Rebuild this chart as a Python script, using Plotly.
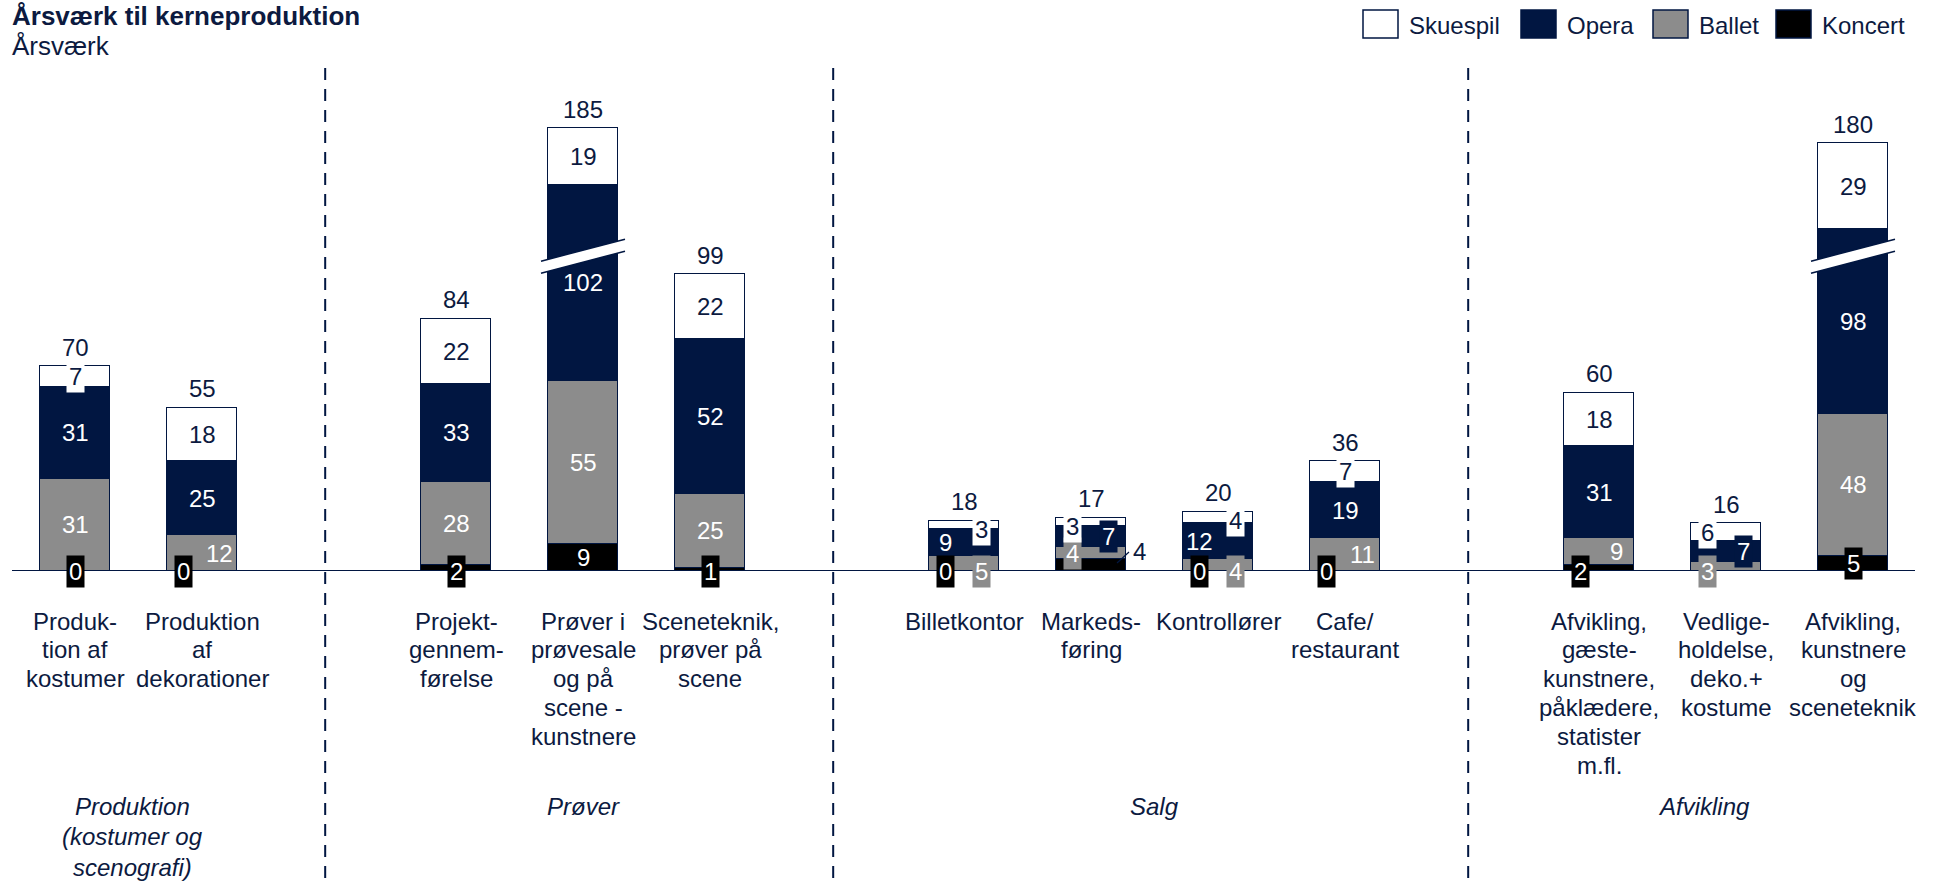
import plotly.graph_objects as go

# ---------------- data ----------------
category_lines = [
    ["Produk-", "tion af", "kostumer"],
    ["Produktion", "af", "dekorationer"],
    ["Projekt-", "gennem-", "førelse"],
    ["Prøver i", "prøvesale", "og på", "scene -", "kunstnere"],
    ["Sceneteknik,", "prøver på", "scene"],
    ["Billetkontor"],
    ["Markeds-", "føring"],
    ["Kontrollører"],
    ["Cafe/", "restaurant"],
    ["Afvikling,", "gæste-", "kunstnere,", "påklædere,", "statister", "m.fl."],
    ["Vedlige-", "holdelse,", "deko.+", "kostume"],
    ["Afvikling,", "kunstnere", "og", "sceneteknik"],
]
positions = [0, 1, 3, 4, 5, 7, 8, 9, 10, 12, 13, 14]
koncert = [0, 0, 2, 9, 1, 0, 4, 0, 0, 2, 0, 5]
ballet = [31, 12, 28, 55, 25, 5, 4, 4, 11, 9, 3, 48]
opera = [31, 25, 33, 102, 52, 9, 7, 12, 19, 31, 7, 98]
skuespil = [7, 18, 22, 19, 22, 3, 3, 4, 7, 18, 6, 29]
totals = [70, 55, 84, 185, 99, 18, 17, 20, 36, 60, 16, 180]
broken = [False, False, False, True, False, False, False, False, False, False, False, True]
group_lines = [["Produktion", "(kostumer og", "scenografi)"], ["Prøver"], ["Salg"], ["Afvikling"]]
group_members = [[0, 1], [2, 3, 4], [5, 6, 7, 8], [9, 10, 11]]
series_names = ["Koncert", "Ballet", "Opera", "Skuespil"]
legend_order = ["Skuespil", "Opera", "Ballet", "Koncert"]
title = "Årsværk til kerneproduktion"
subtitle = "Årsværk"

# ---------------- styles ----------------
NAVY = "#011641"
TEXT = "#0C1A40"
GRAY = "#8C8C8C"
BLACK = "#000000"
WHITE = "#FFFFFF"
colors = {"Koncert": BLACK, "Ballet": GRAY, "Opera": NAVY, "Skuespil": WHITE}
label_colors = {"Koncert": WHITE, "Ballet": WHITE, "Opera": WHITE, "Skuespil": TEXT}
FONT = "Liberation Sans, Arial, sans-serif"
FS = 24

W, H = 1933, 883
TOP, BASE_PX = 100, 571
PLOT_H = BASE_PX - TOP
PX_PER_UNIT = 2.97
YMAX = PLOT_H / PX_PER_UNIT
X0_PX, SLOT_PX = 75, 127
XMIN = -X0_PX / SLOT_PX
XMAX = XMIN + W / SLOT_PX
BAR_W = 0.55
BREAK_CUT = 36      # units removed from broken opera segments
BREAK_AT = 106      # display height of the break band centre

def px_x(px):
    return px / W

def px_y(py):
    return (BASE_PX - py) / PLOT_H

opera_disp = [o - BREAK_CUT if b else o for o, b in zip(opera, broken)]
series_vals = {"Koncert": koncert, "Ballet": ballet, "Opera": opera, "Skuespil": skuespil}
series_disp = {"Koncert": koncert, "Ballet": ballet, "Opera": opera_disp, "Skuespil": skuespil}

fig = go.Figure()
for s in series_names:
    fig.add_trace(go.Bar(
        x=positions, y=series_disp[s], name=s, width=BAR_W,
        marker=dict(color=colors[s], line=dict(color=NAVY, width=1.5)),
        showlegend=False, hoverinfo="skip",
    ))

L, R = -19, 17
label_style = {
    (0, "Koncert"): ("base", 0, True), (0, "Skuespil"): ("mid", 0, True),
    (1, "Koncert"): ("base", L, True), (1, "Ballet"): ("mid", R, False),
    (2, "Koncert"): ("base", 0, True),
    (4, "Koncert"): ("base", 0, True),
    (5, "Koncert"): ("base", L, True), (5, "Ballet"): ("base", R, True),
    (5, "Opera"): ("mid", L, False), (5, "Skuespil"): ("top", R, True),
    (6, "Koncert"): ("out", 48, False), (6, "Ballet"): ("mid", L, True),
    (6, "Opera"): ("mid", R, True), (6, "Skuespil"): ("top", L, True),
    (7, "Koncert"): ("base", L, True), (7, "Ballet"): ("base", R, True),
    (7, "Opera"): ("mid", L, False), (7, "Skuespil"): ("top", R, True),
    (8, "Koncert"): ("base", L, True), (8, "Ballet"): ("mid", R, False), (8, "Skuespil"): ("mid", 0, True),
    (9, "Koncert"): ("base", L, True), (9, "Ballet"): ("mid", R, False),
    (10, "Koncert"): ("hide", 0, False), (10, "Ballet"): ("base", L, True),
    (10, "Opera"): ("mid", R, True), (10, "Skuespil"): ("top", L, True),
    (11, "Koncert"): ("mid", 0, True),
}

annotations = []
shapes = []
for i, xc in enumerate(positions):
    bottom = 0
    top_all = sum(series_disp[k][i] for k in series_names)
    for s in series_names:
        h = series_disp[s][i]
        mode, dx, box = label_style.get((i, s), ("mid", 0, False))
        if mode != "hide":
            if mode == "base":
                y, ys = 0, 0
            elif mode == "top":
                y, ys = top_all, -9
            else:
                y, ys = bottom + h / 2, 0
            fc = label_colors[s]
            if mode == "out":
                fc = TEXT
                y = 6.4
                shapes.append(dict(type="line", xref="x", yref="y",
                                   x0=xc + 26 / SLOT_PX, y0=2.7, x1=xc + 38 / SLOT_PX, y1=6.4,
                                   line=dict(color=NAVY, width=1.2)))
            ann = dict(x=xc, y=y, xref="x", yref="y", xshift=dx, yshift=ys,
                       text=str(series_vals[s][i]), showarrow=False,
                       font=dict(family=FONT, size=FS, color=fc),
                       xanchor="center", yanchor="middle")
            if box:
                ann.update(bgcolor=colors[s], borderpad=2)
            annotations.append(ann)
        bottom += h
    # total label
    annotations.append(dict(x=xc, y=bottom, xref="x", yref="y", yshift=19,
                            text=str(totals[i]), showarrow=False,
                            font=dict(family=FONT, size=FS, color=TEXT),
                            xanchor="center", yanchor="middle"))
    # break marks
    if broken[i]:
        hw = 42 / SLOT_PX
        rise = 22 / PX_PER_UNIT
        thick = 12 / PX_PER_UNIT
        yl = BREAK_AT - rise / 2 - thick / 2
        yr = BREAK_AT + rise / 2 - thick / 2
        shapes.append(dict(type="path", xref="x", yref="y",
                           path=f"M {xc-hw},{yl} L {xc+hw},{yr} L {xc+hw},{yr+thick} L {xc-hw},{yl+thick} Z",
                           fillcolor=WHITE, line=dict(width=0)))
        for off in (0, thick):
            shapes.append(dict(type="line", xref="x", yref="y",
                               x0=xc - hw, y0=yl + off, x1=xc + hw, y1=yr + off,
                               line=dict(color=NAVY, width=1.5)))
    # category labels
    for j, line in enumerate(category_lines[i]):
        annotations.append(dict(x=xc, y=px_y(621 + j * 28.9), xref="x", yref="paper",
                                text=line, showarrow=False,
                                font=dict(family=FONT, size=FS, color=TEXT),
                                xanchor="center", yanchor="middle"))

# group labels
group_x_adj = [-0.05, 0, 0, -0.17]
for g, members in enumerate(group_members):
    gx = sum(positions[m] for m in members) / len(members) + group_x_adj[g]
    for j, line in enumerate(group_lines[g]):
        annotations.append(dict(x=gx, y=px_y(806 + j * 30.8), xref="x", yref="paper",
                                text=f"<i>{line}</i>", showarrow=False,
                                font=dict(family=FONT, size=FS, color=TEXT),
                                xanchor="center", yanchor="middle"))

# group separators
for g in range(len(group_members) - 1):
    sx = (positions[group_members[g][-1]] + positions[group_members[g + 1][0]]) / 2 - 0.03
    shapes.append(dict(type="line", xref="x", yref="paper", x0=sx, x1=sx,
                       y0=px_y(68), y1=px_y(H),
                       line=dict(color=NAVY, width=2, dash="12px,9px")))

# baseline
shapes.append(dict(type="line", xref="x", yref="y", x0=(12 - X0_PX) / SLOT_PX, x1=(1915 - X0_PX) / SLOT_PX,
                   y0=0, y1=0, line=dict(color=NAVY, width=2)))

# legend (manual)
legend_box_px = [1363, 1521, 1653, 1776]
for name, bx in zip(legend_order, legend_box_px):
    shapes.append(dict(type="rect", xref="paper", yref="paper",
                       x0=px_x(bx), x1=px_x(bx + 35), y0=px_y(10), y1=px_y(38),
                       fillcolor=colors[name], line=dict(color=NAVY, width=1.5)))
    annotations.append(dict(x=px_x(bx + 44), y=px_y(25), xref="paper", yref="paper",
                            text=name, showarrow=False, xanchor="left", yanchor="middle",
                            font=dict(family=FONT, size=FS, color=TEXT)))

# title
annotations.append(dict(x=px_x(10), y=px_y(16), xref="paper", yref="paper", text=f"<b>{title}</b>",
                        showarrow=False, xanchor="left", yanchor="middle",
                        font=dict(family=FONT, size=26, color=TEXT)))
annotations.append(dict(x=px_x(10), y=px_y(46), xref="paper", yref="paper", text=subtitle,
                        showarrow=False, xanchor="left", yanchor="middle",
                        font=dict(family=FONT, size=26, color=TEXT)))

fig.update_layout(
    width=W, height=H, barmode="stack", bargap=0,
    margin=dict(l=0, r=0, t=TOP, b=H - BASE_PX, pad=0),
    plot_bgcolor=WHITE, paper_bgcolor=WHITE,
    xaxis=dict(visible=False, range=[XMIN, XMAX]),
    yaxis=dict(visible=False, range=[0, YMAX]),
    annotations=annotations, shapes=shapes, showlegend=False,
)

fig.write_html("out.html", config={"displayModeBar": False},
               post_script="document.body.style.margin='0';document.body.style.overflow='hidden';")
